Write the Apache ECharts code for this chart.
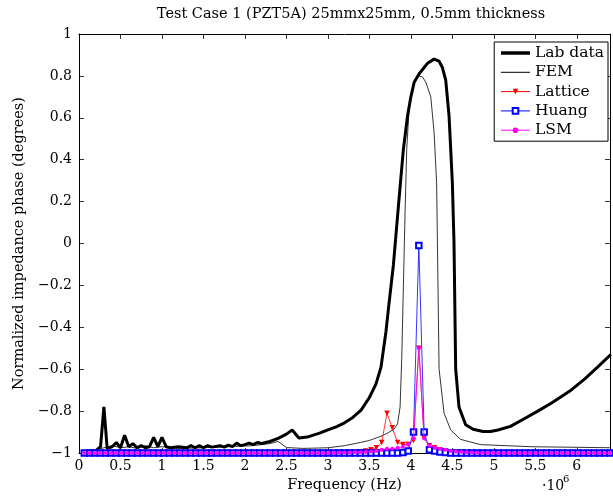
<!DOCTYPE html>
<html><head><meta charset="utf-8">
<script src="https://cdn.jsdelivr.net/npm/echarts@6/dist/echarts.min.js"></script>
<style>html,body{margin:0;padding:0;background:#fff}#c{width:613px;height:499px}</style>
</head><body><div id="c"></div>
<script>
// Lab data [freq (x1e6 Hz), normalized phase]
var labData = [
[0.1,-0.99],[0.2,-0.99],[0.26,-0.97],[0.3,-0.78],[0.34,-0.98],[0.4,-0.97],[0.45,-0.95],[0.5,-0.975],[0.55,-0.915],[0.6,-0.97],
[0.65,-0.955],[0.7,-0.975],[0.75,-0.965],[0.8,-0.975],[0.85,-0.97],[0.9,-0.925],[0.95,-0.97],[1.0,-0.925],[1.05,-0.97],[1.1,-0.975],
[1.2,-0.97],[1.3,-0.975],[1.35,-0.965],[1.4,-0.975],[1.45,-0.965],[1.5,-0.975],[1.55,-0.965],[1.6,-0.972],[1.7,-0.965],[1.75,-0.972],
[1.8,-0.962],[1.85,-0.97],[1.9,-0.953],[1.95,-0.965],[2.0,-0.96],[2.05,-0.953],[2.1,-0.96],[2.15,-0.95],[2.2,-0.955],[2.3,-0.945],
[2.4,-0.93],[2.5,-0.91],[2.57,-0.89],[2.65,-0.928],[2.75,-0.924],[2.9,-0.905],[3.0,-0.89],[3.1,-0.875],[3.2,-0.856],[3.3,-0.83],
[3.4,-0.795],[3.5,-0.735],[3.58,-0.67],[3.64,-0.59],[3.7,-0.42],[3.73,-0.31],[3.79,-0.1],[3.85,0.18],[3.91,0.45],[3.96,0.61],
[4.0,0.7],[4.04,0.77],[4.1,0.81],[4.2,0.86],[4.28,0.88],[4.34,0.87],[4.38,0.84],[4.42,0.78],[4.46,0.61],[4.5,0.29],
[4.52,0.0],[4.54,-0.6],[4.58,-0.78],[4.66,-0.865],[4.75,-0.887],[4.87,-0.897],[4.96,-0.897],[5.05,-0.89],[5.2,-0.873],[5.35,-0.84],
[5.53,-0.80],[5.7,-0.76],[5.93,-0.70],[6.1,-0.645],[6.25,-0.59],[6.41,-0.53]
];
// FEM [freq, phase]
var femData = [
[0.1,-0.99],[0.2,-0.985],[0.3,-0.975],[0.4,-0.965],[0.5,-0.975],[0.6,-0.97],[0.7,-0.978],[0.8,-0.965],[0.9,-0.975],[1.0,-0.97],
[1.2,-0.978],[1.5,-0.975],[1.8,-0.97],[2.1,-0.965],[2.3,-0.955],[2.4,-0.945],[2.5,-0.974],[2.7,-0.978],[3.0,-0.975],[3.2,-0.965],
[3.39,-0.95],[3.5,-0.94],[3.64,-0.92],[3.72,-0.905],[3.8,-0.885],[3.84,-0.86],[3.87,-0.78],[3.89,-0.55],[3.91,-0.2],[3.93,0.15],
[3.95,0.45],[3.98,0.65],[4.04,0.77],[4.1,0.80],[4.14,0.795],[4.18,0.77],[4.24,0.70],[4.28,0.53],[4.31,0.29],[4.32,0.0],
[4.34,-0.6],[4.4,-0.81],[4.48,-0.89],[4.6,-0.935],[4.84,-0.96],[5.45,-0.97],[6.41,-0.975]
];
// Simulation frequency grid (x1e6 Hz)
var simFreq = [
0.064,0.128,0.192,0.256,0.32,0.384,0.448,0.512,0.576,0.64,
0.704,0.768,0.832,0.896,0.96,1.024,1.088,1.152,1.216,1.28,
1.344,1.408,1.472,1.536,1.6,1.664,1.728,1.792,1.856,1.92,
1.984,2.048,2.112,2.176,2.24,2.304,2.368,2.432,2.496,2.56,
2.624,2.688,2.752,2.816,2.88,2.944,3.008,3.072,3.136,3.2,
3.264,3.328,3.392,3.456,3.52,3.584,3.648,3.712,3.776,3.84,
3.904,3.968,4.032,4.096,4.16,4.224,4.288,4.352,4.416,4.48,
4.544,4.608,4.672,4.736,4.8,4.864,4.928,4.992,5.056,5.12,
5.184,5.248,5.312,5.376,5.44,5.504,5.568,5.632,5.696,5.76,
5.824,5.888,5.952,6.016,6.08,6.144,6.208,6.272,6.336,6.4
];
var latticeVals = [
-1,-1,-1,-1,-1,-1,-1,-1,-1,-1,
-1,-1,-1,-1,-1,-1,-1,-1,-1,-1,
-1,-1,-1,-1,-1,-1,-1,-1,-1,-1,
-1,-1,-1,-1,-1,-1,-1,-1,-1,-1,
-1,-1,-1,-1,-1,-1,-0.999,-0.999,-0.998,-0.998,
-0.997,-0.996,-0.994,-0.99,-0.985,-0.975,-0.95,-0.81,-0.88,-0.95,
-0.96,-0.96,-0.94,-0.5,-0.93,-0.965,-0.975,-0.985,-0.99,-0.994,
-0.996,-0.997,-0.998,-0.998,-0.999,-0.999,-1,-1,-1,-1,
-1,-1,-1,-1,-1,-1,-1,-1,-1,-1,
-1,-1,-1,-1,-1,-1,-1,-1,-1,-1
];
var huangVals = [
-1,-1,-1,-1,-1,-1,-1,-1,-1,-1,
-1,-1,-1,-1,-1,-1,-1,-1,-1,-1,
-1,-1,-1,-1,-1,-1,-1,-1,-1,-1,
-1,-1,-1,-1,-1,-1,-1,-1,-1,-1,
-1,-1,-1,-1,-1,-1,-1,-1,-1,-1,
-1,-1,-1,-1,-1,-1,-1,-1,-1,-1,
-0.998,-0.99,-0.9,-0.01,-0.9,-0.985,-0.99,-0.995,-0.998,-1,
-1,-1,-1,-1,-1,-1,-1,-1,-1,-1,
-1,-1,-1,-1,-1,-1,-1,-1,-1,-1,
-1,-1,-1,-1,-1,-1,-1,-1,-1,-1
];
var lsmVals = [
-1,-1,-1,-1,-1,-1,-1,-1,-1,-1,
-1,-1,-1,-1,-1,-1,-1,-1,-1,-1,
-1,-1,-1,-1,-1,-1,-1,-1,-1,-1,
-1,-1,-1,-1,-1,-1,-1,-1,-1,-1,
-1,-1,-1,-1,-1,-1,-1,-1,-0.999,-0.998,
-0.998,-0.997,-0.996,-0.995,-0.993,-0.99,-0.985,-0.98,-0.98,-0.975,
-0.97,-0.96,-0.93,-0.5,-0.93,-0.965,-0.975,-0.98,-0.985,-0.99,
-0.993,-0.995,-0.997,-0.998,-0.999,-0.999,-1,-1,-1,-1,
-1,-1,-1,-1,-1,-1,-1,-1,-1,-1,
-1,-1,-1,-1,-1,-1,-1,-1,-1,-1
];
var seriesNames = ['Lab data','FEM','Lattice','Huang','LSM'];
var titleText = 'Test Case 1 (PZT5A) 25mmx25mm, 0.5mm thickness';
var xLabel = 'Frequency (Hz)';
var yLabel = 'Normalized impedance phase (degrees)';

function pair(xs, ys){ var out=[]; for(var i=0;i<xs.length;i++) out.push([xs[i], ys[i]]); return out; }
var FONT = 'DejaVu Serif';
var fmtNum = function(v){ var s = String(Math.round(v*100)/100); return s.replace('-', '\u2212'); };

var chart = echarts.init(document.getElementById('c'), null, {renderer:'canvas'});
var axisCommon = {
  axisLine:{show:true, onZero:false, lineStyle:{color:'#000', width:1}},
  axisTick:{show:true, inside:true, length:5, lineStyle:{color:'#000', width:0.8}},
  splitLine:{show:false}
};
chart.setOption({
  animation:false,
  backgroundColor:'#fff',
  title:{text:titleText, left:346, textAlign:'center', top:2,
    textStyle:{fontFamily:FONT, fontSize:14.5, fontWeight:'normal', color:'#000'}},
  grid:{left:79, right:3, top:34, bottom:46, containLabel:false},
  legend:{
    data:[
      {name:seriesNames[0], itemStyle:{opacity:0}, lineStyle:{width:3.5, color:'#000'}},
      {name:seriesNames[1], itemStyle:{opacity:0}, lineStyle:{width:1, color:'#000'}},
      {name:seriesNames[2], lineStyle:{width:1}},
      {name:seriesNames[3], lineStyle:{width:1}},
      {name:seriesNames[4], lineStyle:{width:1}}
    ],
    orient:'vertical', right:5, top:42,
    backgroundColor:'#fff', borderColor:'#000', borderWidth:1, borderRadius:0,
    padding:[2,4,2,5], itemGap:1.3, itemWidth:29, itemHeight:7,
    textStyle:{fontFamily:FONT, fontSize:15.5, color:'#000', lineHeight:18}
  },
  xAxis:[
    Object.assign({type:'value', min:0, max:6.4, interval:0.5, position:'bottom',
      name:xLabel, nameLocation:'middle', nameGap:24,
      nameTextStyle:{fontFamily:FONT, fontSize:14.5, color:'#000'},
      axisLabel:{fontFamily:FONT, fontSize:14, color:'#000', margin:6, showMaxLabel:false, formatter:fmtNum}}, axisCommon),
    Object.assign({type:'value', min:0, max:6.4, interval:0.5, position:'top',
      axisLabel:{show:false}}, axisCommon)
  ],
  yAxis:[
    Object.assign({type:'value', min:-1, max:1, interval:0.2, position:'left',
      name:yLabel, nameLocation:'middle', nameGap:52, nameRotate:90,
      nameTextStyle:{fontFamily:FONT, fontSize:14.5, color:'#000'},
      axisLabel:{fontFamily:FONT, fontSize:14, color:'#000', margin:7, formatter:fmtNum}}, axisCommon),
    Object.assign({type:'value', min:-1, max:1, interval:0.2, position:'right',
      axisLabel:{show:false}}, axisCommon)
  ],
  graphic:[{type:'text', left:542, top:479, style:{text:'\u00b710', fontFamily:FONT, fontSize:14, fill:'#000'}},
           {type:'text', left:563, top:474, style:{text:'6', fontFamily:FONT, fontSize:10, fill:'#000'}}],
  series:[
    {name:'Lab data', type:'line', data:labData, showSymbol:false, symbol:'none',
      lineStyle:{color:'#000', width:3}, itemStyle:{color:'#000'}, z:2},
    {name:'FEM', type:'line', data:femData, showSymbol:false, symbol:'none',
      lineStyle:{color:'#000', width:0.8}, itemStyle:{color:'#000'}, z:3},
    {name:'Lattice', type:'line', data:pair(simFreq, latticeVals), symbol:'triangle', symbolSize:5.5, symbolRotate:180,
      lineStyle:{color:'#ff0000', width:0.8}, itemStyle:{color:'#ff0000'}, z:4},
    {name:'Huang', type:'line', data:pair(simFreq, huangVals), symbol:'emptyRect', symbolSize:5.5,
      lineStyle:{color:'#0000ff', width:0.8}, itemStyle:{color:'#0000ff', borderColor:'#0000ff', borderWidth:1}, z:5},
    {name:'LSM', type:'line', data:pair(simFreq, lsmVals), symbol:'circle', symbolSize:4,
      lineStyle:{color:'#ff00ff', width:0.8}, itemStyle:{color:'#ff00ff'}, z:6}
  ]
});
</script></body></html>
